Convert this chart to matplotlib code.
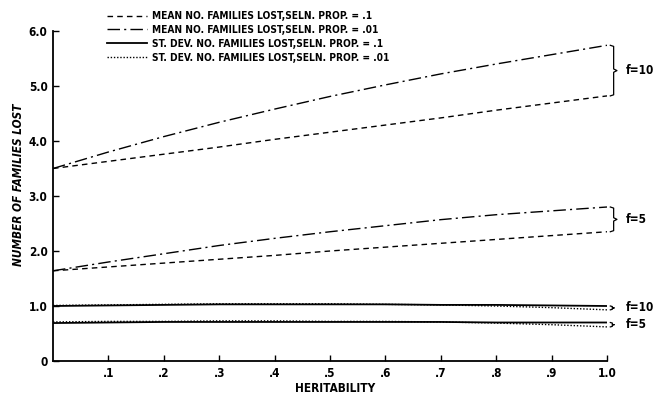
import matplotlib
matplotlib.use("Agg")
import matplotlib.pyplot as plt
from matplotlib.lines import Line2D

plt.rcParams['font.family'] = ['DejaVu Sans']
plt.rcParams['font.stretch'] = 'condensed'
plt.rcParams['font.weight'] = 'bold'
plt.rcParams['lines.scale_dashes'] = False

heritability = [0.0, 0.1, 0.2, 0.3, 0.4, 0.5, 0.6, 0.7, 0.8, 0.9, 1.0]

# means, f = 10
mean_f10_p1 = [3.50, 3.63, 3.76, 3.89, 4.03, 4.16, 4.29, 4.42, 4.56, 4.69, 4.82]
mean_f10_p01 = [3.50, 3.80, 4.08, 4.34, 4.58, 4.81, 5.02, 5.22, 5.40, 5.57, 5.74]
# means, f = 5
mean_f5_p1 = [1.64, 1.71, 1.78, 1.85, 1.92, 2.00, 2.07, 2.14, 2.21, 2.28, 2.35]
mean_f5_p01 = [1.64, 1.80, 1.95, 2.10, 2.23, 2.35, 2.46, 2.57, 2.66, 2.73, 2.80]
# st. devs
sd_f10_p1 = [1.00, 1.01, 1.02, 1.03, 1.03, 1.03, 1.03, 1.02, 1.02, 1.01, 1.00]
sd_f10_p01 = [1.01, 1.02, 1.03, 1.04, 1.04, 1.04, 1.03, 1.02, 1.00, 0.97, 0.93]
sd_f5_p1 = [0.69, 0.70, 0.71, 0.71, 0.71, 0.71, 0.71, 0.71, 0.70, 0.70, 0.70]
sd_f5_p01 = [0.71, 0.72, 0.72, 0.73, 0.73, 0.72, 0.72, 0.71, 0.69, 0.66, 0.62]

legend_labels = [
    "MEAN NO. FAMILIES LOST,SELN. PROP. = .1",
    "MEAN NO. FAMILIES LOST,SELN. PROP. = .01",
    "ST. DEV. NO. FAMILIES LOST,SELN. PROP. = .1",
    "ST. DEV. NO. FAMILIES LOST,SELN. PROP. = .01",
]

x_ticks = [0.1, 0.2, 0.3, 0.4, 0.5, 0.6, 0.7, 0.8, 0.9, 1.0]
x_ticklabels = [".1", ".2", ".3", ".4", ".5", ".6", ".7", ".8", ".9", "1.0"]
y_ticks = [0, 1, 2, 3, 4, 5, 6]
y_ticklabels = ["0", "1.0", "2.0", "3.0", "4.0", "5.0", "6.0"]

DASHED = (0, (4, 3))
DASHDOT = (0, (9, 3, 1.5, 3))
DOTTED = (0, (1, 1.3))
lw = 1.0


def brace(ax, x, y0, y1, w=0.006):
    # small curly brace drawn in data coordinates, opening to the left
    ym = (y0 + y1) / 2
    xs = [x, x + w, x + w, x + 2 * w, x + w, x + w, x]
    ys = [y1, y1 - 0.02, ym + 0.03, ym, ym - 0.03, y0 + 0.02, y0]
    if y1 - y0 < 0.15:
        xs = [x, x + w * 0.6, x + w * 0.6, x + w * 1.2, x + w * 0.6, x + w * 0.6, x]
        ys = [y1, y1 - 0.01, ym + 0.005, ym, ym - 0.005, y0 + 0.01, y0]
    ax.plot(xs, ys, color='black', lw=0.9, clip_on=False)


fig = plt.figure(figsize=(6.59, 3.96), dpi=100)
ax = fig.add_axes([53 / 659, 1 - 361 / 396, 554 / 659, 330 / 396])

c = 'black'
ax.plot(heritability, mean_f10_p1, color=c, lw=lw, linestyle=DASHED)
ax.plot(heritability, mean_f10_p01, color=c, lw=lw, linestyle=DASHDOT)
ax.plot(heritability, mean_f5_p1, color=c, lw=lw, linestyle=DASHED)
ax.plot(heritability, mean_f5_p01, color=c, lw=lw, linestyle=DASHDOT)
ax.plot(heritability, sd_f10_p1, color=c, lw=1.3, linestyle='-')
ax.plot(heritability, sd_f10_p01, color=c, lw=lw, linestyle=DOTTED)
ax.plot(heritability, sd_f5_p1, color=c, lw=1.3, linestyle='-')
ax.plot(heritability, sd_f5_p01, color=c, lw=lw, linestyle=DOTTED)

ax.set_xlim(0, 1.0)
ax.set_ylim(0, 6.0)
ax.spines['top'].set_visible(False)
ax.spines['right'].set_visible(False)
ax.spines['left'].set_linewidth(1.3)
ax.spines['bottom'].set_linewidth(1.3)
ax.set_xticks(x_ticks)
ax.set_xticklabels(x_ticklabels)
ax.set_yticks(y_ticks)
ax.set_yticklabels(y_ticklabels)
ax.tick_params(direction='in', length=4, width=1.0, labelsize=8.5, pad=4)

# braces with f labels
brace(ax, 1.006, mean_f10_p1[-1], mean_f10_p01[-1])
ax.text(1.034, (mean_f10_p1[-1] + mean_f10_p01[-1]) / 2, "f=10", fontsize=8.5,
        va='center', ha='left')
brace(ax, 1.006, mean_f5_p1[-1], mean_f5_p01[-1])
ax.text(1.034, (mean_f5_p1[-1] + mean_f5_p01[-1]) / 2, "f=5", fontsize=8.5,
        va='center', ha='left')
brace(ax, 1.006, sd_f10_p01[-1], sd_f10_p1[-1])
ax.text(1.034, (sd_f10_p1[-1] + sd_f10_p01[-1]) / 2, "f=10", fontsize=8.5,
        va='center', ha='left')
brace(ax, 1.006, sd_f5_p01[-1], sd_f5_p1[-1])
ax.text(1.034, (sd_f5_p1[-1] + sd_f5_p01[-1]) / 2, "f=5", fontsize=8.5,
        va='center', ha='left')

handles = [
    Line2D([], [], color=c, lw=lw, linestyle=DASHED),
    Line2D([], [], color=c, lw=lw, linestyle=DASHDOT),
    Line2D([], [], color=c, lw=1.3, linestyle='-'),
    Line2D([], [], color=c, lw=lw, linestyle=DOTTED),
]
fig.legend(handles, legend_labels, loc='upper left',
           bbox_to_anchor=(100 / 659, 1 - 4 / 396), frameon=False,
           fontsize=7.3, handlelength=3.9, handletextpad=0.55,
           labelspacing=0.38, borderpad=0.2)

fig.text(19 / 659, 1 - 185 / 396, "NUMBER OF FAMILIES LOST", rotation=90,
         fontsize=8.5, style='italic', va='center', ha='center')
fig.text(335 / 659, 1 - 388 / 396, "HERITABILITY", fontsize=8.5,
         va='center', ha='center')

fig.savefig("out.png", dpi=100)
